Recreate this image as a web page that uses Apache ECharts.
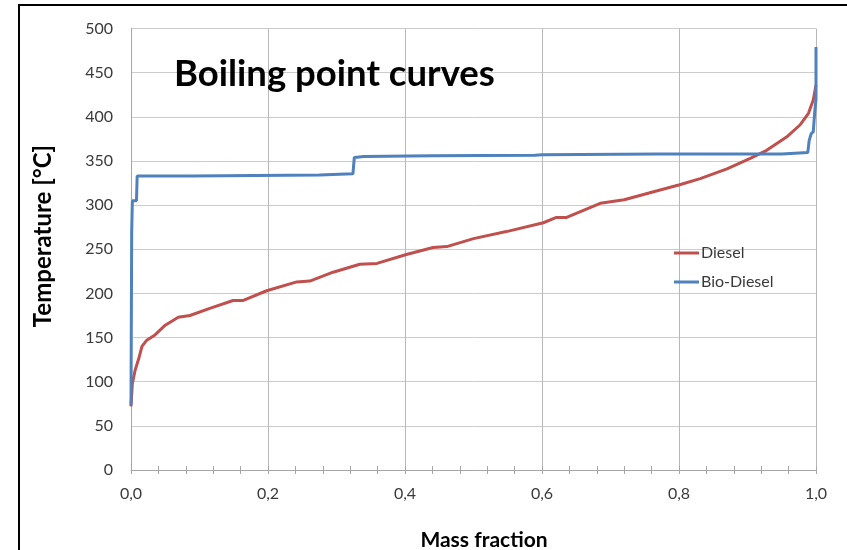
<!DOCTYPE html>
<html>
<head>
<meta charset="utf-8">
<script src="https://cdn.jsdelivr.net/npm/echarts@6/dist/echarts.min.js"></script>
<style>
  html, body { margin: 0; padding: 0; background: #fff; }
  #chart { width: 847px; height: 550px; }
</style>
</head>
<body>
<div id="chart"></div>
<script>
// Boiling point curves: temperature vs. evaporated mass fraction
const seriesNames = ['Diesel', 'Bio-Diesel'];

const dieselMass = [0, 0.002, 0.006, 0.012, 0.016, 0.023, 0.035, 0.05, 0.069, 0.086, 0.115, 0.149, 0.164, 0.198, 0.242, 0.261, 0.295, 0.334, 0.359, 0.402, 0.441, 0.461, 0.5, 0.548, 0.602, 0.621, 0.636, 0.685, 0.72, 0.767, 0.801, 0.831, 0.87, 0.904, 0.928, 0.957, 0.977, 0.989, 0.996, 1.0];
const dieselTemp = [72, 98, 113, 128, 140, 147, 153, 164, 173, 175, 183, 192, 192, 203, 213, 214, 224, 233, 234, 244, 252, 253, 262, 270, 280, 286, 286, 302, 306, 316, 323, 330, 341, 353, 362, 377, 391, 404, 419, 436];

const bioMass = [0, 0.001, 0.002, 0.008, 0.009, 0.087, 0.088, 0.275, 0.276, 0.324, 0.326, 0.34, 0.44, 0.59, 0.6, 0.77, 0.95, 0.952, 0.988, 0.99, 0.993, 0.996, 0.998, 1.0, 1.0];
const bioTemp = [74, 270, 305, 305, 333, 333, 334, 334, 335.5, 335.5, 354, 355, 356, 356.5, 357, 358, 358, 359.5, 359.5, 373, 381, 383, 404, 420, 479];

const xTicks = { min: 0, max: 1, step: 0.2 };
const yTicks = { min: 0, max: 500, step: 50 };

const pairs = (xs, ys) => xs.map((x, i) => [x, ys[i]]);

const fontFamily = 'Lato, "Open Sans", sans-serif';
const textColor = '#3a3a3a';
const tickColor = '#a6a6a6';

const chart = echarts.init(document.getElementById('chart'));
chart.setOption({
  animation: false,
  backgroundColor: '#fff',
  grid: { left: 131, right: 31, top: 28.5, bottom: 80 },
  title: {
    text: 'Boiling point curves',
    left: 169, top: 51,
    textStyle: { fontFamily, fontWeight: 'bold', fontSize: 36.5, color: '#000' }
  },
  legend: {
    orient: 'vertical',
    left: 669, top: 240,
    itemGap: 13,
    itemWidth: 25, itemHeight: 3,
    icon: 'rect',
    data: seriesNames,
    textStyle: { fontFamily, fontSize: 16, color: textColor, padding: [0, 0, 0, -3] }
  },
  graphic: [{
    type: 'rect',
    shape: { x: 19, y: 5, width: 900, height: 700 },
    style: { fill: 'none', stroke: '#000', lineWidth: 2 },
    silent: true
  }, {
    type: 'text',
    x: 43, y: 236,
    rotation: Math.PI / 2,
    style: {
      text: 'Temperature [°C]',
      align: 'center', verticalAlign: 'middle',
      font: 'bold 24px ' + fontFamily,
      fill: '#000'
    },
    silent: true
  }, {
    type: 'text',
    x: 484, y: 540,
    style: {
      text: 'Mass fraction',
      align: 'center', verticalAlign: 'middle',
      font: 'bold 21px ' + fontFamily,
      fill: '#000'
    },
    silent: true
  }],
  xAxis: [{
    type: 'value',
    min: xTicks.min, max: xTicks.max, interval: xTicks.step,
    axisLine: { show: true, lineStyle: { color: tickColor, width: 1 } },
    axisTick: { show: true, length: 4, lineStyle: { color: tickColor } },
    minorTick: { show: true, splitNumber: 5, length: 4, lineStyle: { color: tickColor } },
    axisLabel: {
      fontFamily, fontSize: 16, color: textColor, margin: 16,
      formatter: v => v.toFixed(1).replace('.', ',')
    },
    splitLine: { show: true, lineStyle: { color: '#b8b8b8', width: 1 } }
  }, {
    type: 'value',
    min: xTicks.min, max: xTicks.max, interval: xTicks.step,
    position: 'bottom',
    axisLine: { show: false },
    axisTick: { show: true, inside: true, length: 4, lineStyle: { color: tickColor } },
    minorTick: { show: true, splitNumber: 5, length: 4, lineStyle: { color: tickColor } },
    axisLabel: { show: false },
    splitLine: { show: false }
  }],
  yAxis: {
    type: 'value',
    min: yTicks.min, max: yTicks.max, interval: yTicks.step,
    axisLine: { show: true, lineStyle: { color: tickColor, width: 1 } },
    axisTick: { show: false },
    axisLabel: { fontFamily, fontSize: 16, color: textColor, margin: 18 },
    splitLine: { show: true, lineStyle: { color: '#cccccc', width: 1 } }
  },
  series: [{
    name: seriesNames[0],
    type: 'line',
    xAxisIndex: 0,
    data: pairs(dieselMass, dieselTemp),
    showSymbol: false,
    color: '#C0504D',
    lineStyle: { width: 3, color: '#C0504D' }
  }, {
    name: seriesNames[1],
    type: 'line',
    xAxisIndex: 0,
    data: pairs(bioMass, bioTemp),
    showSymbol: false,
    color: '#4F81BD',
    lineStyle: { width: 3, color: '#4F81BD' }
  }]
});
</script>
</body>
</html>
